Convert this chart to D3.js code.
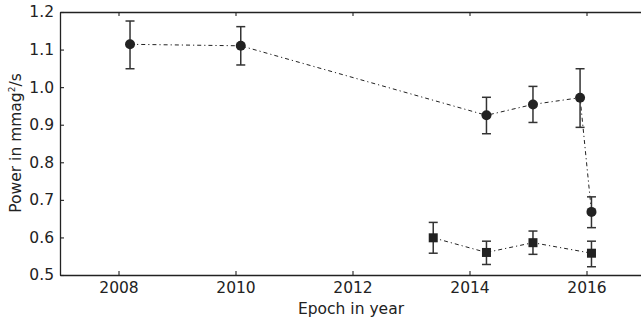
<!DOCTYPE html>
<html>
<head>
<meta charset="utf-8">
<script src="https://cdn.jsdelivr.net/npm/d3@7"></script>
<style>
body { margin: 0; background: #fff; }
svg { font-family: "DejaVu Sans", sans-serif; }
</style>
</head>
<body>
<div class="chart"></div>
<script>
// circles series
var epochA = [2008.197, 2010.09, 2014.29, 2015.085, 2015.89, 2016.085]
var powerA = [1.114, 1.11, 0.925, 0.954, 0.972, 0.668]
var errHiA = [1.176, 1.161, 0.973, 1.002, 1.049, 0.708]
var errLoA = [1.049, 1.059, 0.876, 0.906, 0.893, 0.626]

// squares series
var epochB = [2013.38, 2014.29, 2015.085, 2016.085]
var powerB = [0.599, 0.56, 0.586, 0.558]
var errHiB = [0.640, 0.590, 0.617, 0.590]
var errLoB = [0.558, 0.528, 0.555, 0.522]

var xTicks = [2008, 2010, 2012, 2014, 2016]
var yTicks = [0.5, 0.6, 0.7, 0.8, 0.9, 1.0, 1.1, 1.2]

var W = 641, H = 320
var pLeft = 60, pRight = 645, pTop = 12, pBottom = 275
var ink = "#222"
var fs = 15.5

var svg = d3.select(".chart").append("svg")
    .attr("width", W)
    .attr("height", H)

var x = d3.scaleLinear().domain([2007, 2017]).range([pLeft, pRight])
var y = d3.scaleLinear().domain([0.5, 1.2]).range([pBottom, pTop])

function rows(ep, p, hi, lo) {
    return ep.map(function(e, i){
        return {x: e, y: p[i], hi: hi[i], lo: lo[i]}
    })
}
var dataA = rows(epochA, powerA, errHiA, errLoA)
var dataB = rows(epochB, powerB, errHiB, errLoB)

// axes - ticks pointing inward on all sides
svg.append("g")
    .attr("transform", "translate(0," + pBottom + ")")
    .call(d3.axisBottom(x).tickValues(xTicks).tickFormat(d3.format("d")).tickSizeInner(-4).tickSizeOuter(0).tickPadding(7))
svg.append("g")
    .attr("transform", "translate(0," + pTop + ")")
    .call(d3.axisTop(x).tickValues(xTicks).tickFormat("").tickSizeInner(-4).tickSizeOuter(0))
svg.append("g")
    .attr("transform", "translate(" + pLeft + ",0)")
    .call(d3.axisLeft(y).tickValues(yTicks).tickFormat(d3.format(".1f")).tickSizeInner(-4).tickSizeOuter(0).tickPadding(6))
svg.append("g")
    .attr("transform", "translate(" + pRight + ",0)")
    .call(d3.axisRight(y).tickValues(yTicks).tickFormat("").tickSizeInner(-4).tickSizeOuter(0))

svg.selectAll("g").attr("font-size", fs).attr("font-family", "DejaVu Sans, sans-serif")
svg.selectAll(".domain").attr("stroke", ink).attr("stroke-width", 1.3)
svg.selectAll(".tick line").attr("stroke", ink).attr("stroke-width", 1.1)
svg.selectAll(".tick text").attr("fill", ink)

// labels
svg.append("text")
    .attr("x", 351)
    .attr("y", 314)
    .attr("text-anchor", "middle")
    .attr("fill", ink)
    .style("font-size", fs + "px")
    .text("Epoch in year")

var yl = svg.append("text")
    .attr("transform", "translate(21," + 143 + ") rotate(-90)")
    .attr("text-anchor", "middle")
    .attr("fill", ink)
    .style("font-size", fs + "px")
yl.append("tspan").text("Power in mmag")
yl.append("tspan").attr("dy", -6).style("font-size", "9px").text("2")
yl.append("tspan").attr("dy", 6).text("/s")

var line = d3.line()
    .x(function(d){ return x(d.x) })
    .y(function(d){ return y(d.y) })

function series(data, shape) {
    svg.append("path")
        .datum(data)
        .attr("d", line)
        .attr("fill", "none")
        .attr("stroke", ink)
        .attr("stroke-width", 1)
        .attr("stroke-dasharray", "4,3,1.2,3")

    var g = svg.append("g")
    g.selectAll(".bar").data(data).enter().append("line")
        .attr("x1", function(d){ return x(d.x) })
        .attr("x2", function(d){ return x(d.x) })
        .attr("y1", function(d){ return y(d.hi) })
        .attr("y2", function(d){ return y(d.lo) })
        .attr("stroke", "#333").attr("stroke-width", 1.5)
    ;["hi", "lo"].forEach(function(k){
        g.selectAll(".cap" + k).data(data).enter().append("line")
            .attr("x1", function(d){ return x(d.x) - 4.5 })
            .attr("x2", function(d){ return x(d.x) + 4.5 })
            .attr("y1", function(d){ return y(d[k]) })
            .attr("y2", function(d){ return y(d[k]) })
            .attr("stroke", "#333").attr("stroke-width", 1.5)
    })

    if (shape == "circle") {
        g.selectAll("circle").data(data).enter().append("circle")
            .attr("cx", function(d){ return x(d.x) })
            .attr("cy", function(d){ return y(d.y) })
            .attr("r", 5)
            .attr("fill", ink)
    } else {
        g.selectAll("rect").data(data).enter().append("rect")
            .attr("x", function(d){ return x(d.x) - 4.5 })
            .attr("y", function(d){ return y(d.y) - 4.5 })
            .attr("width", 9)
            .attr("height", 9)
            .attr("fill", ink)
    }
}

series(dataA, "circle")
series(dataB, "square")
</script>
</body>
</html>
